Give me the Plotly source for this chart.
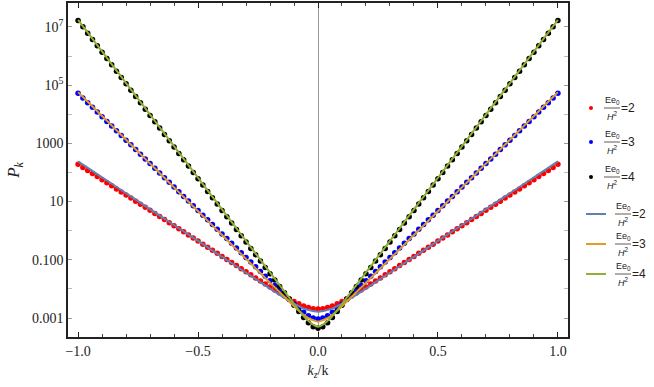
import plotly.graph_objects as go

# kz/k grid for the dots (0 .. 1, mirrored to negative side)
kz_dots = [0.0, 0.02, 0.04, 0.06, 0.08, 0.1, 0.12, 0.14, 0.16, 0.18, 0.2,
           0.22, 0.24, 0.26, 0.28, 0.3, 0.32, 0.34, 0.36, 0.38, 0.4,
           0.42, 0.44, 0.46, 0.48, 0.5, 0.52, 0.54, 0.56, 0.58, 0.6,
           0.62, 0.64, 0.66, 0.68, 0.7, 0.72, 0.74, 0.76, 0.78, 0.8,
           0.82, 0.84, 0.86, 0.88, 0.9, 0.92, 0.94, 0.96, 0.98, 1.0]

# Ee0/H^2 = 2 (red dots)
dots2 = [0.002042, 0.002104, 0.002286, 0.002606, 0.003083, 0.003741, 0.004613,
         0.005768, 0.007261, 0.009183, 0.01167, 0.01483, 0.01884, 0.02396,
         0.03054, 0.03893, 0.04963, 0.06326, 0.08064, 0.1028, 0.1310, 0.1670,
         0.2129, 0.2714, 0.3459, 0.4410, 0.5621, 0.7165, 0.9134, 1.164, 1.484,
         1.892, 2.411, 3.074, 3.918, 4.995, 6.367, 8.116, 10.35, 13.19, 16.81,
         21.43, 27.32, 34.82, 44.39, 56.58, 72.12, 91.93, 117.2, 149.4, 190.4]

# Ee0/H^2 = 3 (blue dots)
dots3 = [0.000933, 0.000998, 0.001202, 0.001574, 0.002163, 0.003055, 0.004365,
         0.006288, 0.009085, 0.01314, 0.01904, 0.02755, 0.03992, 0.05783,
         0.08380, 0.1214, 0.1759, 0.2549, 0.3693, 0.5351, 0.7752, 1.123, 1.627,
         2.358, 3.416, 4.949, 7.170, 10.39, 15.05, 21.81, 31.60, 45.78, 66.33,
         96.09, 139.2, 201.7, 292.2, 423.4, 613.5, 888.8, 1288, 1866, 2703,
         3916, 5674, 8221, 11910, 17260, 25000, 36230, 52480]

# Ee0/H^2 = 4 (black dots)
dots4 = [0.0004467, 0.000504, 0.00069, 0.001052, 0.001684, 0.002748, 0.004513,
         0.007432, 0.01225, 0.02021, 0.03334, 0.0550, 0.09075, 0.1497, 0.2470,
         0.4074, 0.6722, 1.109, 1.829, 3.018, 4.977, 8.212, 13.55, 22.35, 36.87,
         60.81, 100.3, 165.5, 273.0, 450.5, 743.0, 1226, 2022, 3336, 5503, 9078,
         14980, 24710, 40760, 67240, 110900, 183000, 301900, 498000, 821600,
         1355000, 2236000, 3688000, 6084000, 10040000, 16560000]

# kz/k grid for the curves
kz_lines = [0.0, 0.05, 0.1, 0.15, 0.2, 0.25, 0.3, 0.35, 0.4, 0.45, 0.5,
            0.55, 0.6, 0.65, 0.7, 0.75, 0.8, 0.85, 0.9, 0.95, 1.0]

line2 = [0.00166, 0.0020, 0.003155, 0.0056, 0.01033, 0.01928, 0.03607, 0.06767,
         0.1269, 0.2379, 0.4461, 0.8366, 1.569, 2.943, 5.516, 10.35, 19.40,
         36.39, 68.23, 127.9, 239.9]
line3 = [0.0007586, 0.001121, 0.002552, 0.00642, 0.01641, 0.04207, 0.1079,
         0.2767, 0.7096, 1.820, 4.667, 11.97, 30.69, 78.70, 201.8, 517.6, 1327,
         3404, 8730, 22390, 57410]
line4 = [0.0005012, 0.000945, 0.003061, 0.01059, 0.0369, 0.1285, 0.4477, 1.560,
         5.433, 18.92, 65.92, 229.6, 799.8, 2786, 9705, 33810, 117800, 410200,
         1429000, 4977000, 17340000]

labels = ["2", "3", "4"]
dot_colors = ["#ff0000", "#0000ff", "#000000"]
line_colors = ["#5e81b5", "#e19c24", "#8fb032"]


def mirror_x(xs):
    return [-v for v in reversed(xs[1:])] + list(xs)


def mirror_y(ys):
    return list(reversed(ys[1:])) + list(ys)


fig = go.Figure()

for ys, c in zip([dots2, dots3, dots4], dot_colors):
    fig.add_trace(go.Scatter(x=mirror_x(kz_dots), y=mirror_y(ys), mode="markers",
                             marker=dict(color=c, size=5.5, line=dict(width=0)),
                             showlegend=False))

for ys, c in zip([line2, line3, line4], line_colors):
    fig.add_trace(go.Scatter(x=mirror_x(kz_lines), y=mirror_y(ys), mode="lines",
                             line=dict(color=c, width=2, shape="spline", smoothing=0.6),
                             showlegend=False))

# plot area in pixels
L, R, T, B = 68, 568, 3, 337
W, H = 654, 387


def px(x):
    return (x - L) / (R - L)


def py(y):
    return (B - y) / (B - T)


# hand-made legend (fractions Ee0/H^2)
legend_y = [108, 142, 177, 214, 244, 274]
shapes = []
annots = []
for i, yy in enumerate(legend_y):
    if i < 3:
        shapes.append(dict(type="circle", xref="paper", yref="paper",
                           x0=px(589), x1=px(593), y0=py(yy + 2), y1=py(yy - 2),
                           fillcolor=dot_colors[i], line=dict(width=0)))
        xc = 612
    else:
        shapes.append(dict(type="line", xref="paper", yref="paper",
                           x0=px(586), x1=px(606), y0=py(yy), y1=py(yy),
                           line=dict(color=line_colors[i - 3], width=2)))
        xc = 623
    lab = labels[i % 3]
    shapes.append(dict(type="line", xref="paper", yref="paper",
                       x0=px(xc - 8), x1=px(xc + 8), y0=py(yy), y1=py(yy),
                       line=dict(color="#333", width=0.8)))
    annots.append(dict(x=px(xc), y=py(yy - 1), xref="paper", yref="paper",
                       xanchor="center", yanchor="bottom",
                       text="Ee<sub>0</sub>", showarrow=False, borderpad=0,
                       font=dict(family="Liberation Sans", size=9, color="#222")))
    annots.append(dict(x=px(xc), y=py(yy + 1), xref="paper", yref="paper",
                       xanchor="center", yanchor="top",
                       text="<i>H</i><sup>2</sup>", showarrow=False, borderpad=0,
                       font=dict(family="Liberation Sans", size=9, color="#222")))
    annots.append(dict(x=px(xc + 8), y=py(yy), xref="paper", yref="paper",
                       xanchor="left", yanchor="middle", borderpad=0,
                       text="=" + lab, showarrow=False,
                       font=dict(family="Liberation Sans", size=12, color="#222")))

fig.update_layout(
    width=W, height=H,
    margin=dict(l=L, r=W - R, t=T, b=H - B),
    plot_bgcolor="white", paper_bgcolor="white",
    font=dict(family="Liberation Serif", size=14, color="#222"),
    shapes=shapes, annotations=annots,
    showlegend=False,
)

fig.update_xaxes(
    range=[-1.042, 1.042], automargin=False,
    tickvals=[-1.0, -0.5, 0.0, 0.5, 1.0],
    ticktext=["\u22121.0", "\u22120.5", "0.0", "0.5", "1.0"],
    ticks="inside", ticklen=5, tickwidth=1.2, tickcolor="#222",
    minor=dict(tickvals=[-0.9, -0.8, -0.7, -0.6, -0.4, -0.3, -0.2, -0.1,
                         0.1, 0.2, 0.3, 0.4, 0.6, 0.7, 0.8, 0.9],
               ticks="inside", ticklen=3, tickcolor="#444", tickwidth=1),
    showline=True, linecolor="#222", linewidth=1.5, mirror="ticks",
    showgrid=False, zeroline=True, zerolinecolor="#999", zerolinewidth=1,
    title=dict(text="<i>k</i><sub><i>z</i></sub>/k", standoff=8,
               font=dict(size=14)),
)

fig.update_yaxes(
    type="log", range=[-3.65, 7.82], automargin=False,
    tickvals=[1e-3, 1e-1, 1e1, 1e3, 1e5, 1e7],
    ticktext=["0.001", "0.100", "10", "1000", "10<sup>5</sup>", "10<sup>7</sup>"],
    ticks="inside", ticklen=4, tickcolor="#999", tickwidth=1,
    minor=dict(tickvals=[1e-2, 1, 1e2, 1e4, 1e6], ticks="inside", ticklen=4,
               tickcolor="#bbb", tickwidth=1),
    showline=True, linecolor="#222", linewidth=1.5, mirror="ticks",
    showgrid=False, zeroline=False,
    title=dict(text="<i>P</i><sub><i>k</i></sub>", standoff=8),
)

# the page's default body margin would shift the figure by 8px
fig.write_html("out.html", config={"displayModeBar": False},
               post_script="document.body.style.margin='0px';")
